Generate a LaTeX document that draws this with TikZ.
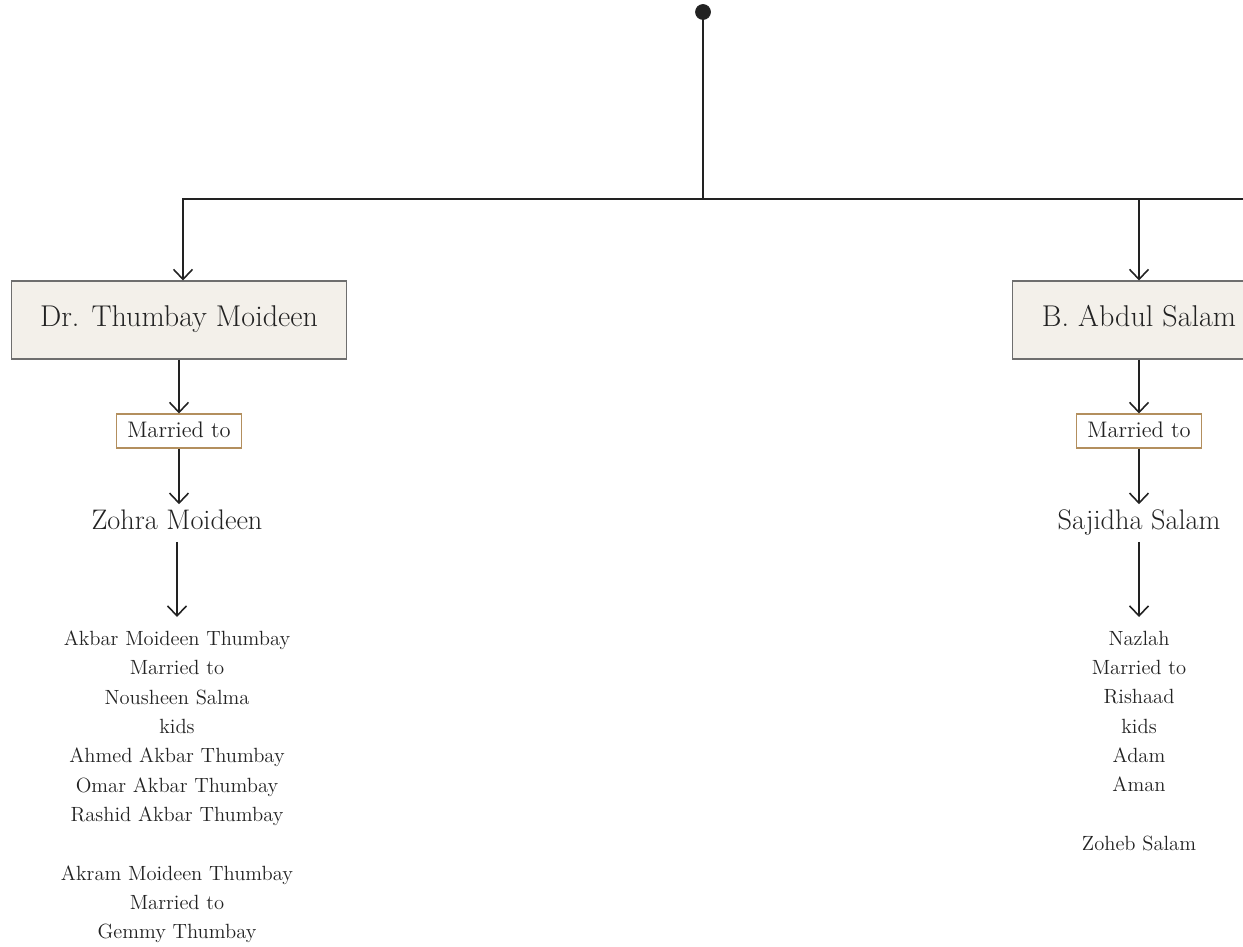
\documentclass[tikz,border=0pt]{standalone}
\usepackage{fontspec}
\usetikzlibrary{arrows.meta,positioning}

\definecolor{ink}{HTML}{222222}
\definecolor{boxfill}{HTML}{F3F0EA}
\definecolor{boxline}{HTML}{6E6E6E}
\definecolor{marline}{HTML}{B38F5E}

\tikzset{
  namebox/.style={draw=boxline, fill=boxfill, line width=0.6pt, inner xsep=0.58cm,
    minimum height=1.56cm, text height=0.7em, text depth=0pt,
    font=\fontsize{17.1}{20}\selectfont},
  marbox/.style={draw=marline, line width=0.6pt, inner xsep=0.22cm,
    minimum height=0.68cm, text height=0.7em, text depth=0pt,
    font=\fontsize{12.8}{15}\selectfont},
  spouse/.style={inner xsep=0pt, inner ysep=7pt, text height=0.7em, text depth=0pt,
    font=\fontsize{16.1}{19}\selectfont},
  kidlist/.style={align=center, inner xsep=0pt, inner ysep=0.27cm, anchor=north,
    font=\fontsize{11.7}{16.7}\selectfont},
  tree/.style={-{Straight Barb[length=0.2cm,width=0.38cm]}, line width=0.9pt, draw=ink}
}

\begin{document}
\begin{tikzpicture}[x=0.02cm, y=-0.02cm, color=ink]
  \clip (0,0) rectangle (1243,946);

  % --- root and branch line ---
  \coordinate (root) at (703,12);
  \coordinate (hub) at (703,199);
  \coordinate (lj) at (183,199);
  \coordinate (rj) at (1139,199);
  \coordinate (rend) at (1260,199);

  % --- children ---
  \node[namebox] (thumbay) at (179,320) {Dr. Thumbay Moideen};
  \node[namebox] (salam) at (1139,320) {B. Abdul Salam};

  \node[marbox] (tmar) at (179,431) {Married to};
  \node[marbox] (smar) at (1139,431) {Married to};

  \node[spouse] (zohra) at (177,523) {Zohra Moideen};
  \node[spouse] (sajidha) at (1139,523) {Sajidha Salam};

  % 子どもと孫の一覧
  \node[kidlist] (tkids) at (177,617) {Akbar Moideen Thumbay\\ Married to\\ Nousheen Salma\\ kids\\
    Ahmed Akbar Thumbay\\ Omar Akbar Thumbay\\ Rashid Akbar Thumbay\\[16.7pt]
    Akram Moideen Thumbay\\ Married to\\ Gemmy Thumbay};
  \node[kidlist] (skids) at (1139,617) {Nazlah\\ Married to\\ Rishaad\\ kids\\ Adam\\ Aman\\[16.7pt]
    Zoheb Salam};

  % --- connectors ---
  \draw[line width=0.9pt] (root) -- (hub);
  \filldraw (root) circle (0.15cm);
  \draw[tree] (rend) -- (lj) -- (lj |- thumbay.north);
  \draw[tree] (rj) -- (salam.north);
  \draw[tree] (thumbay) -- (tmar);
  \draw[tree] (salam) -- (smar);
  \draw[tree] (tmar.south) -- (tmar.south |- zohra.north);
  \draw[tree] (smar) -- (sajidha);
  \draw[tree] (zohra) -- (tkids);
  \draw[tree] (sajidha) -- (skids);
\end{tikzpicture}
\end{document}
